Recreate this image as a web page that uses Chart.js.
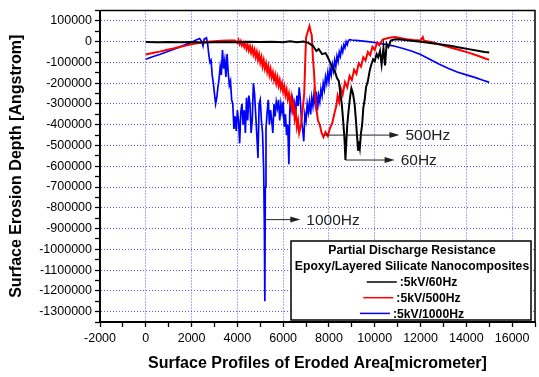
<!DOCTYPE html>
<html>
<head>
<meta charset="utf-8">
<script src="https://cdn.jsdelivr.net/npm/chart.js@4/dist/chart.umd.min.js"></script>
<style>
  html, body { margin: 0; padding: 0; background: #fff; }
  #wrap { width: 539px; height: 377px; }
</style>
</head>
<body>
<div id="wrap"><canvas id="erosion"></canvas></div>
<script>
// series labels (legend)
const seriesLabels = [':5kV/60Hz', ':5kV/500Hz', ':5kV/1000Hz'];

// 5kV / 60Hz  (x in micrometer, y in Angstrom)
const x60 = [0, 500, 1000, 1500, 2000, 2500, 3000, 3500, 4000, 4500, 5000, 5500, 6000, 6300, 6600, 6900, 7100, 7300, 7450, 7550,
  7700, 7850, 7950, 8050, 8150, 8250, 8350, 8430, 8500, 8560, 8620, 8680, 8720, 8760, 8800, 8860, 8920, 8980, 9050, 9120,
  9180, 9230, 9270, 9310, 9350, 9400, 9450, 9500, 9560, 9620, 9700, 9780, 9850, 9930, 10000, 10080, 10150, 10230, 10300, 10380,
  10450, 10520, 10600, 10700, 10850, 11000, 11300, 11700, 12100, 12500, 12900, 13300, 13700, 14100, 14500, 14800, 15000];
const y60 = [-2000, -3000, -2000, -3000, -2000, -4000, -3000, -2000, -3000, -1000, -2000, 0, -3000, 2000, -3000, 1000, -6000, -20000, -45000, -35000,
  -60000, -55000, -75000, -100000, -125000, -140000, -175000, -190000, -250000, -300000, -380000, -470000, -570000, -480000, -400000, -330000, -270000, -225000, -250000, -300000,
  -380000, -460000, -520000, -480000, -510000, -440000, -400000, -320000, -280000, -220000, -190000, -140000, -110000, -85000, -95000, -60000, -75000, -45000, -110000, -30000,
  -115000, -10000, -25000, 5000, 10000, 12000, 8000, 3000, -2000, -8000, -14000, -20000, -28000, -36000, -44000, -50000, -52000];

// 5kV / 500Hz
const x500 = [0, 300, 600, 900, 1200, 1500, 1800, 2100, 2400, 2700, 3000, 3300, 3600, 3900, 4000, 4050, 4100, 4150, 4200, 4250,
  4300, 4350, 4400, 4450, 4500, 4550, 4600, 4650, 4700, 4750, 4800, 4850, 4900, 4950, 5000, 5050, 5100, 5150, 5200, 5250,
  5300, 5350, 5400, 5450, 5500, 5550, 5600, 5650, 5700, 5750, 5800, 5850, 5900, 5950, 6000, 6050, 6100, 6150, 6200, 6250,
  6300, 6350, 6400, 6450, 6500, 6550, 6600, 6650, 6700, 6780, 6850, 6920, 6960, 7000, 7080, 7150, 7200, 7250, 7300, 7350,
  7400, 7450, 7520, 7600, 7680, 7760, 7850, 7950, 8050, 8150, 8250, 8320, 8380, 8450, 8520, 8600, 8700, 8800, 8900, 9000,
  9100, 9200, 9300, 9400, 9500, 9600, 9700, 9800, 9900, 10000, 10100, 10200, 10350, 10500, 10700, 10900, 11100, 11400, 11700, 12000,
  12100, 12150, 12500, 12900, 13300, 13700, 14100, 14500, 14800, 15000];
const y500 = [-62000, -55000, -48000, -40000, -33000, -25000, -18000, -10000, -5000, 0, 2000, 4000, 6000, 5000, -6000, 8000, -12000, 2000, -18000, -4000,
  -25000, -8000, -35000, -15000, -42000, -22000, -52000, -30000, -62000, -40000, -75000, -50000, -88000, -62000, -100000, -75000, -118000, -90000, -130000, -105000,
  -145000, -118000, -160000, -132000, -172000, -148000, -185000, -160000, -200000, -172000, -212000, -185000, -225000, -200000, -240000, -215000, -258000, -232000, -275000, -250000,
  -300000, -268000, -330000, -300000, -370000, -335000, -410000, -380000, -440000, -400000, -330000, -250000, -110000, 20000, 50000, 75000, 50000, 30000, -80000, -150000,
  -260000, -320000, -380000, -400000, -440000, -460000, -435000, -455000, -415000, -390000, -340000, -310000, -260000, -290000, -225000, -255000, -195000, -220000, -165000, -185000,
  -135000, -155000, -105000, -120000, -75000, -90000, -50000, -65000, -25000, -40000, -5000, -18000, 10000, 15000, 20000, 22000, 18000, 12000, 8000, 5000,
  22000, 4000, -3000, -15000, -28000, -40000, -53000, -68000, -80000, -88000];

// 5kV / 1000Hz
const x1000 = [0, 300, 600, 900, 1200, 1500, 1800, 2000, 2200, 2350, 2450, 2500, 2550, 2650, 2700, 2750, 2800, 2850, 2900, 2950,
  3000, 3050, 3100, 3150, 3200, 3250, 3300, 3350, 3400, 3450, 3500, 3550, 3600, 3650, 3700, 3750, 3800, 3850, 3900, 3950,
  4000, 4050, 4100, 4150, 4200, 4250, 4300, 4350, 4400, 4450, 4500, 4550, 4600, 4650, 4700, 4750, 4800, 4850, 4900, 4950,
  5000, 5050, 5100, 5150, 5180, 5200, 5220, 5250, 5300, 5350, 5400, 5450, 5500, 5550, 5600, 5650, 5700, 5750, 5800, 5850,
  5900, 5950, 6000, 6050, 6100, 6150, 6200, 6250, 6300, 6350, 6400, 6450, 6500, 6550, 6600, 6650, 6700, 6750, 6800, 6850,
  6900, 6950, 7000, 7050, 7100, 7150, 7200, 7250, 7300, 7350, 7400, 7450, 7500, 7550, 7600, 7650, 7700, 7750, 7800, 7850,
  7900, 7950, 8000, 8050, 8100, 8150, 8200, 8250, 8300, 8350, 8400, 8450, 8500, 8550, 8600, 8650, 8700, 8750, 8800, 8850,
  8900, 9000, 9300, 9700, 10000, 10400, 10800, 11200, 11600, 12000, 12400, 12800, 13200, 13600, 14000, 14400, 14700, 15000];
const y1000 = [-85000, -73000, -62000, -50000, -38000, -25000, -12000, -3000, 8000, 15000, 0, -20000, 12000, 18000, -10000, -60000, -100000, -90000, -160000, -200000,
  -250000, -300000, -270000, -220000, -180000, -120000, -160000, -40000, -130000, -90000, -170000, -60000, -150000, -210000, -190000, -280000, -300000, -420000, -360000, -430000,
  -330000, -380000, -490000, -340000, -300000, -400000, -330000, -440000, -270000, -380000, -260000, -300000, -440000, -380000, -200000, -250000, -350000, -450000, -560000, -300000,
  -280000, -380000, -440000, -620000, -900000, -1250000, -700000, -420000, -340000, -280000, -400000, -330000, -380000, -440000, -300000, -360000, -290000, -320000, -280000, -380000,
  -300000, -340000, -290000, -410000, -350000, -450000, -400000, -590000, -270000, -320000, -280000, -350000, -300000, -340000, -260000, -310000, -220000, -280000, -380000, -420000,
  -480000, -350000, -380000, -300000, -340000, -290000, -350000, -270000, -310000, -250000, -300000, -240000, -330000, -260000, -290000, -230000, -260000, -200000, -230000, -170000,
  -200000, -150000, -190000, -130000, -160000, -110000, -140000, -90000, -120000, -70000, -95000, -50000, -70000, -30000, -50000, -15000, -30000, 0, -15000, 5000,
  10000, 8000, 5000, 0, -4000, -12000, -20000, -32000, -45000, -62000, -85000, -108000, -128000, -146000, -160000, -173000, -185000, -196000];

// arrow annotations (data coordinates)
const noteLabels = ['500Hz', '60Hz', '1000Hz'];
const noteStartX = [7800, 8720, 5200];
const noteEndX = [11080, 10870, 6750];
const noteY = [-450000, -570000, -857000];

// legend heading lines
const legendTitle = ['Partial Discharge Resistance', 'Epoxy/Layered Silicate Nanocomposites'];

function pts(xs, ys) {
  return xs.map((x, i) => ({ x: x, y: ys[i] }));
}

const framePlugin = {
  id: 'frame',
  afterDraw(chart) {
    const ctx = chart.ctx;
    const a = chart.chartArea;
    const xs = chart.scales.x;
    const ys = chart.scales.y;
    ctx.save();
    // top + right border of the plot
    ctx.strokeStyle = '#000';
    ctx.lineWidth = 1.5;
    ctx.beginPath();
    ctx.moveTo(a.left, a.top);
    ctx.lineTo(a.right, a.top);
    ctx.lineTo(a.right, a.bottom);
    ctx.stroke();

    // arrows
    ctx.strokeStyle = '#222';
    ctx.fillStyle = '#222';
    ctx.lineWidth = 1;
    ctx.font = '15.5px "Liberation Sans", Arial, sans-serif';
    ctx.textBaseline = 'middle';
    for (let i = 0; i < noteLabels.length; i++) {
      const x0 = xs.getPixelForValue(noteStartX[i]);
      const x1 = xs.getPixelForValue(noteEndX[i]);
      const y = ys.getPixelForValue(noteY[i]);
      ctx.beginPath();
      ctx.moveTo(x0, y);
      ctx.lineTo(x1 - 8, y);
      ctx.stroke();
      ctx.beginPath();
      ctx.moveTo(x1, y);
      ctx.lineTo(x1 - 10, y - 3);
      ctx.lineTo(x1 - 10, y + 3);
      ctx.closePath();
      ctx.fill();
      ctx.fillText(noteLabels[i], x1 + 6, y + 1);
    }

    // legend box
    const bx = a.right - 244, by = a.bottom - 81, bw = 240, bh = 79;
    ctx.fillStyle = '#fff';
    ctx.fillRect(bx, by, bw, bh);
    ctx.strokeStyle = '#000';
    ctx.lineWidth = 1.5;
    ctx.strokeRect(bx, by, bw, bh);
    const cx = bx + bw / 2 + 1;
    ctx.fillStyle = '#000';
    ctx.font = 'bold 12.2px "Liberation Sans", Arial, sans-serif';
    ctx.textAlign = 'center';
    ctx.fillText(legendTitle[0], cx, by + 10);
    ctx.fillText(legendTitle[1], cx, by + 25.5);
    ctx.textAlign = 'left';
    chart.data.datasets.forEach((ds, i) => {
      const y = by + 41 + i * 15.7;
      const tw = ctx.measureText(ds.label).width;
      const lineLen = 30;
      const start = cx - (lineLen + 3 + tw) / 2;
      ctx.strokeStyle = ds.borderColor;
      ctx.lineWidth = 1.5;
      ctx.beginPath();
      ctx.moveTo(start, y);
      ctx.lineTo(start + lineLen, y);
      ctx.stroke();
      ctx.fillText(ds.label, start + lineLen + 3, y + 1);
    });
    ctx.restore();
  }
};

const tickFont = { family: '"Liberation Sans", Arial, sans-serif', size: 12.5 };
const titleFont = { family: '"Liberation Sans", Arial, sans-serif', size: 16, weight: 'bold' };
const gridBlue = 'rgba(70, 70, 255, 0.9)';

const ctx = document.getElementById('erosion').getContext('2d');
const chart = new Chart(ctx, {
  type: 'line',
  data: {
    datasets: [
      { label: seriesLabels[0], data: pts(x60, y60), borderColor: '#000000', borderWidth: 2 },
      { label: seriesLabels[1], data: pts(x500, y500), borderColor: '#ff0000', borderWidth: 2 },
      { label: seriesLabels[2], data: pts(x1000, y1000), borderColor: '#0000ff', borderWidth: 1.7 }
    ]
  },
  options: {
    responsive: true,
    maintainAspectRatio: false,
    animation: false,
    parsing: false,
    elements: { point: { radius: 0 }, line: { tension: 0 } },
    layout: { padding: { top: 7, right: 2, left: 0, bottom: 0 } },
    plugins: { legend: { display: false }, tooltip: { enabled: false } },
    scales: {
      x: {
        type: 'linear',
        min: -2000,
        max: 17000,
        afterFit: s => { s.height = 55; },
        ticks: {
          stepSize: 1000,
          autoSkip: false,
          maxRotation: 0,
          padding: 4,
          color: '#000',
          font: tickFont,
          callback: v => (v % 2000 === 0 ? String(v) : '')
        },
        grid: {
          color: c => (c.tick && c.tick.value % 2000 === 0 ? gridBlue : 'rgba(0,0,0,0)'),
          lineWidth: 1,
          tickColor: '#000',
          tickLength: 5,
          tickWidth: 1.3
        },
        border: { display: true, color: '#000', width: 2, dash: [1, 2] },
        title: {
          display: true,
          text: 'Surface Profiles of Eroded Area[micrometer]',
          color: '#000',
          font: titleFont,
          padding: { top: 0, bottom: 4 }
        }
      },
      y: {
        type: 'linear',
        min: -1350000,
        max: 150000,
        afterFit: s => { s.width = 100; },
        ticks: {
          stepSize: 50000,
          autoSkip: false,
          padding: 3,
          color: '#000',
          font: tickFont,
          callback: v => (v % 100000 === 0 ? String(v) : '')
        },
        grid: {
          color: c => (c.tick && c.tick.value % 100000 === 0 ? gridBlue : 'rgba(0,0,0,0)'),
          lineWidth: 1,
          tickColor: '#000',
          tickLength: 5,
          tickWidth: 1.3
        },
        border: { display: true, color: '#000', width: 2, dash: [1, 2] },
        title: {
          display: true,
          text: 'Surface Erosion Depth [Angstrom]',
          color: '#000',
          font: titleFont,
          padding: { top: 7, bottom: 0 }
        }
      }
    }
  },
  plugins: [framePlugin]
});
</script>
</body>
</html>
